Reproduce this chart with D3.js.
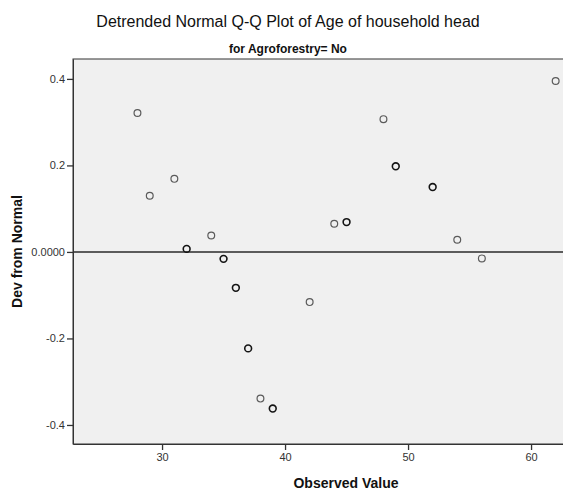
<!DOCTYPE html>
<html>
<head>
<meta charset="utf-8">
<script src="https://cdn.jsdelivr.net/npm/d3@7"></script>
<style>
  body { margin: 0; background: #fff; }
  text { font-family: "Liberation Sans", Arial, sans-serif; }
</style>
</head>
<body>
<div id="chart"></div>
<script>
// observed ages, detrended deviation, and how many cases sit on each point
const observed = [28, 29, 31, 32, 34, 35, 36, 37, 38, 39, 42, 44, 45, 48, 49, 52, 54, 56, 62];
const devFromNormal = [0.321, 0.130, 0.169, 0.007, 0.038, -0.016, -0.083, -0.223, -0.339, -0.362,
                       -0.116, 0.065, 0.069, 0.307, 0.198, 0.150, 0.028, -0.015, 0.395];
const caseCount = [1, 1, 1, 2, 1, 2, 2, 2, 1, 2, 1, 1, 2, 1, 2, 2, 1, 1, 1];
const xTicks = [30, 40, 50, 60];
const yTicks = [-0.4, -0.2, 0, 0.2, 0.4];
const yTickLabels = ["-0.4", "-0.2", "0.0000", "0.2", "0.4"];

const title = "Detrended Normal Q-Q Plot of Age of household head";
const subtitle = "for Agroforestry= No";

const W = 563, H = 496;
const margin = {top: 59, right: -56, bottom: 52, left: 73};
const width = W - margin.left - margin.right,
      height = H - margin.top - margin.bottom;

const svg = d3.select("#chart")
  .append("svg")
    .attr("width", W)
    .attr("height", H);

const g = svg.append("g")
    .attr("transform", `translate(${margin.left},${margin.top})`);

const x = d3.scaleLinear()
  .domain([22.76, 67.15])
  .range([0, width]);

const y = d3.scaleLinear()
  .domain([-0.444, 0.446])
  .range([height, 0]);

// plot background + frame
g.append("rect")
  .attr("width", width)
  .attr("height", height)
  .attr("fill", "#f0f0f0")
  .attr("stroke", "#333")
  .attr("stroke-width", 1);

// reference line at zero
g.append("line")
  .attr("x1", 0).attr("x2", width)
  .attr("y1", y(0)).attr("y2", y(0))
  .attr("stroke", "#5c5c5c")
  .attr("stroke-width", 2);

// axes
const xAxis = g.append("g")
  .attr("transform", `translate(0,${height})`)
  .call(d3.axisBottom(x).tickValues(xTicks).tickSizeInner(6).tickSizeOuter(0)
    .tickPadding(3).tickFormat(d3.format("d")));

const yAxis = g.append("g")
  .call(d3.axisLeft(y).tickValues(yTicks).tickSizeInner(6).tickSizeOuter(0).tickPadding(2)
    .tickFormat((d, i) => yTickLabels[i]));

[xAxis, yAxis].forEach(a => {
  a.select(".domain").attr("stroke", "#333");
  a.selectAll(".tick line").attr("stroke", "#333").attr("stroke-width", 1.3);
  a.selectAll(".tick text")
    .attr("fill", "#333")
    .style("font-size", "11px")
    .style("font-family", "'Liberation Sans', Arial, sans-serif");
});

// points
const pts = observed.map((v, i) => ({obs: v, dev: devFromNormal[i], n: caseCount[i]}));
const strokeColor = d3.scaleOrdinal().domain([1, 2]).range(["#5a5a5a", "#141414"]);

g.selectAll("circle.pt")
  .data(pts)
  .join("circle")
    .attr("class", "pt")
    .attr("cx", d => x(d.obs))
    .attr("cy", d => y(d.dev))
    .attr("r", 3.4)
    .attr("fill", "none")
    .attr("stroke", d => strokeColor(d.n))
    .attr("stroke-width", d => d.n > 1 ? 1.6 : 1.2);

// titles
svg.append("text")
  .attr("x", 288).attr("y", 27)
  .attr("text-anchor", "middle")
  .style("font-size", "16px")
  .attr("fill", "#111")
  .text(title);

svg.append("text")
  .attr("x", 288).attr("y", 53)
  .attr("text-anchor", "middle")
  .style("font-size", "12px")
  .style("font-weight", "bold")
  .attr("fill", "#111")
  .text(subtitle);

svg.append("text")
  .attr("x", 346).attr("y", 488)
  .attr("text-anchor", "middle")
  .style("font-size", "14px")
  .style("font-weight", "bold")
  .attr("fill", "#111")
  .text("Observed Value");

svg.append("text")
  .attr("transform", `translate(22,${margin.top + height / 2}) rotate(-90)`)
  .attr("text-anchor", "middle")
  .style("font-size", "14px")
  .style("font-weight", "bold")
  .attr("fill", "#111")
  .text("Dev from Normal");
</script>
</body>
</html>
